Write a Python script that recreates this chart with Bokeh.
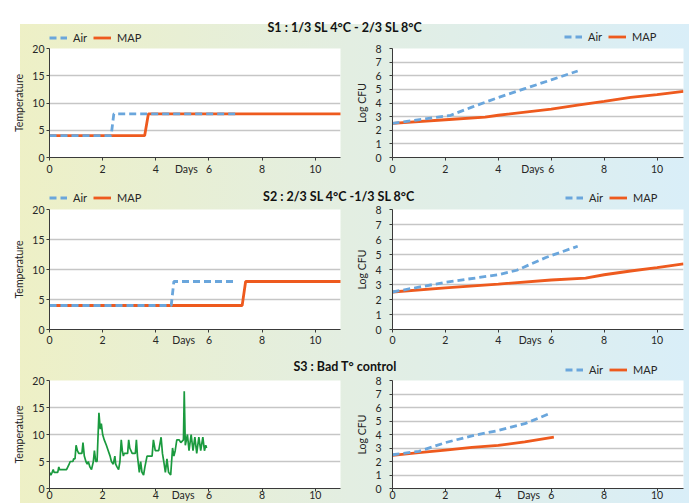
from bokeh.plotting import figure
from bokeh.models import Range1d, Label, Legend, LegendItem, FixedTicker, GridBox
from bokeh.embed import file_html
from bokeh.resources import INLINE

# ---------------- data ----------------
day_ticks = [0, 2, 4, 6, 8, 10]
temp_ticks = [0, 5, 10, 15, 20]
log_ticks = [0, 1, 2, 3, 4, 5, 6, 7, 8]
days_label = "Days"
days_label_pos = [5.15, 5.3, 5.05, 5.2, 5.03, 5.15]   # p11, p12, p21, p22, p31, p32

titles = ["S1 : 1/3 SL 4°C - 2/3 SL 8°C", "S2 : 2/3 SL 4°C -1/3 SL 8°C", "S3 : Bad T° control"]

s1_air_temp_x = [0, 2.32, 2.42, 7.0]
s1_air_temp_y = [4, 4, 8, 8]
s1_map_temp_x = [0, 3.58, 3.72, 11]
s1_map_temp_y = [4, 4, 8, 8]

s2_air_temp_x = [0, 4.58, 4.68, 7.0]
s2_air_temp_y = [4, 4, 8, 8]
s2_map_temp_x = [0, 7.25, 7.38, 11]
s2_map_temp_y = [4, 4, 8, 8]

s3_temp_day = [0.00, 0.05, 0.10, 0.14, 0.17, 0.31, 0.35, 0.38, 0.64, 0.74,
               0.78, 0.88, 0.91, 0.96, 1.00, 1.05, 1.10, 1.22, 1.26, 1.31,
               1.37, 1.42, 1.46, 1.52, 1.58, 1.65, 1.69, 1.74, 1.79, 1.86,
               1.91, 1.95, 2.00, 2.06, 2.14, 2.21, 2.28, 2.33, 2.40, 2.46,
               2.49, 2.54, 2.60, 2.65, 2.70, 2.74, 2.78, 2.81, 2.94, 2.98,
               3.02, 3.11, 3.23, 3.27, 3.31, 3.38, 3.43, 3.48, 3.54, 3.59,
               3.67, 3.86, 3.91, 3.98, 4.11, 4.20, 4.25, 4.30, 4.36, 4.42,
               4.48, 4.56, 4.63, 4.68, 4.73, 4.79, 4.88, 4.94, 5.04, 5.07,
               5.11, 5.19, 5.25, 5.33, 5.40, 5.47, 5.54, 5.62, 5.69, 5.77,
               5.83, 5.88, 5.91]
s3_temp_val = [3.0, 2.5, 3.0, 3.5, 3.0, 3.0, 4.0, 3.5, 3.5, 4.5,
               5.0, 5.0, 5.5, 5.5, 8.0, 7.0, 6.5, 6.5, 8.5, 6.0,
               5.0, 4.5, 5.0, 4.0, 3.5, 5.0, 7.0, 5.0, 5.0, 14.0,
               11.0, 12.0, 10.0, 9.0, 8.0, 7.0, 6.0, 5.0, 4.5, 6.0,
               4.5, 4.0, 3.5, 5.0, 9.0, 7.0, 6.0, 6.5, 6.5, 9.0,
               7.5, 6.5, 6.5, 9.0, 6.0, 3.0, 5.0, 3.0, 2.5, 4.0,
               6.0, 6.0, 9.0, 7.0, 7.0, 9.5, 6.5, 5.0, 3.0, 5.5,
               3.0, 2.5, 7.5, 6.0, 7.0, 9.0, 9.0, 8.5, 9.0, 18.0,
               8.0, 10.0, 7.0, 10.0, 7.0, 9.5, 6.5, 9.5, 7.0, 9.5,
               7.0, 8.0, 7.5]

s1_air_log_x = [0, 2.2, 3, 4, 5, 6, 7]
s1_air_log_y = [2.5, 3.1, 3.7, 4.4, 5.05, 5.7, 6.35]
s1_map_log_x = [0, 2, 3.5, 4, 6, 7, 8, 9, 10, 11]
s1_map_log_y = [2.5, 2.77, 2.97, 3.1, 3.55, 3.85, 4.12, 4.42, 4.62, 4.86]

s2_air_log_x = [0, 2, 4, 4.7, 5.8, 7]
s2_air_log_y = [2.5, 3.15, 3.65, 3.95, 4.8, 5.55]
s2_map_log_x = [0, 2, 4, 6, 7.3, 8, 9, 10, 11]
s2_map_log_y = [2.5, 2.78, 3.03, 3.3, 3.42, 3.65, 3.9, 4.13, 4.37]

s3_air_log_x = [0, 1, 2, 3, 4, 5, 6]
s3_air_log_y = [2.5, 2.75, 3.4, 3.9, 4.3, 4.8, 5.6]
s3_map_log_x = [0, 1, 2, 3, 4, 5, 6.1]
s3_map_log_y = [2.45, 2.65, 2.85, 3.05, 3.2, 3.45, 3.8]

# ---------------- style ----------------
FONT = "Lato"
AIR = "#6aa6dc"
MAP = "#ee5a1e"
GREEN = "#1a9a3e"
AXC = "#3a3a3a"
TXT = "#262626"

COLS = [335, 344]
W = sum(COLS)
HDR = [32, 27, 28]      # header strip heights (titles + legends)
PNL = [133, 144, 127]   # panel row heights


def panel(width, height, borders, xmax, yticks, ylabel, ystand, xstand, days_x):
    left, right, top, bottom = borders
    p = figure(width=width, height=height, x_range=Range1d(0, xmax),
               y_range=Range1d(yticks[0], yticks[-1]), toolbar_location=None,
               output_backend="svg", min_border_left=left,
               min_border_right=right, min_border_top=top, min_border_bottom=bottom,
               background_fill_color="white", border_fill_color=None,
               outline_line_color=None)
    # "Days" sits on the tick-label line; tick marks come from the minor ticks
    p.xaxis.ticker = FixedTicker(ticks=sorted(day_ticks + [days_x]), minor_ticks=day_ticks)
    p.xaxis.major_label_overrides = {days_x: days_label}
    p.yaxis.ticker = FixedTicker(ticks=yticks, minor_ticks=[])
    p.xgrid.visible = False
    p.ygrid.grid_line_color = "#c6c6c6"
    p.ygrid.grid_line_width = 1.6
    for ax in p.axis:
        ax.axis_line_color = AXC
        ax.major_tick_line_color = AXC
        ax.minor_tick_line_color = AXC
        ax.major_tick_in = 0
        ax.minor_tick_in = 0
        ax.major_label_text_font = FONT
        ax.major_label_text_font_size = "10.5px"
        ax.major_label_text_color = TXT
    p.xaxis.major_tick_out = 0
    p.xaxis.minor_tick_out = 3
    p.yaxis.major_tick_out = 3
    p.yaxis.minor_tick_out = 0
    p.xaxis.major_label_standoff = xstand
    p.yaxis.major_label_standoff = ystand
    p.yaxis.axis_label = ylabel
    p.yaxis.axis_label_text_font = FONT
    p.yaxis.axis_label_text_font_size = "10.5px"
    p.yaxis.axis_label_text_font_style = "normal"
    p.yaxis.axis_label_text_color = TXT
    p.yaxis.axis_label_standoff = 4
    return p


def header(h, title, tx, ty, legend_locs):
    # x data range = page pixels of the plot-frame span (48 .. 683)
    p = figure(width=W, height=h, x_range=Range1d(48, 683), y_range=Range1d(0, h),
               toolbar_location=None, output_backend="svg", x_axis_type=None,
               y_axis_type=None, min_border_left=38, min_border_right=6,
               min_border_top=0, min_border_bottom=0, background_fill_color=None,
               border_fill_color=None, outline_line_color=None)
    p.grid.visible = False
    p.add_layout(Label(x=tx, y=ty, text=title, text_align="center",
                       text_baseline="middle", text_font=FONT,
                       text_font_size="12.5px", text_font_style="bold",
                       text_color="#111111"))
    for loc in legend_locs:
        # legend sample renderers (kept below the visible strip)
        ra = p.line([0, 1], [-10, -10], line_color=AIR, line_width=2.8, line_dash="7 4")
        rm = p.line([0, 1], [-10, -10], line_color=MAP, line_width=2.8)
        leg = Legend(items=[LegendItem(label="Air", renderers=[ra]),
                            LegendItem(label="MAP", renderers=[rm])],
                     orientation="horizontal", location=loc, padding=0, margin=0,
                     spacing=6, label_standoff=6, glyph_width=18, glyph_height=11,
                     label_height=11, label_width=0, background_fill_alpha=0,
                     border_line_color=None, label_text_font=FONT,
                     label_text_font_size="11px", label_text_color=TXT)
        p.add_layout(leg)
    return p


def pair(p, ax, ay, mx, my):
    p.line(mx, my, line_color=MAP, line_width=2.8)
    p.line(ax, ay, line_color=AIR, line_width=2.8, line_dash="7 4")


# headers: titles + legends
h1 = header(HDR[0], titles[0], 344, 17, [(0, 0.5), (515, 1.5)])
h2 = header(HDR[1], titles[1], 338, 8, [(0, 0.5), (516, 0)])
h3 = header(HDR[2], titles[2], 344, 10, [(516, 0)])

# row 1
p11 = panel(COLS[0], PNL[0], (38, 5, 4, 20), 10.95, temp_ticks, "Temperature", 2, 2, days_label_pos[0])
pair(p11, s1_air_temp_x, s1_air_temp_y, s1_map_temp_x, s1_map_temp_y)
p12 = panel(COLS[1], PNL[0], (47, 6, 4, 20), 11.0, log_ticks, "Log CFU", 8, 2, days_label_pos[1])
pair(p12, s1_air_log_x, s1_air_log_y, s1_map_log_x, s1_map_log_y)

# row 2
p21 = panel(COLS[0], PNL[1], (38, 5, 5, 19), 10.95, temp_ticks, "Temperature", 2, 1, days_label_pos[2])
pair(p21, s2_air_temp_x, s2_air_temp_y, s2_map_temp_x, s2_map_temp_y)
p22 = panel(COLS[1], PNL[1], (47, 6, 5, 19), 11.0, log_ticks, "Log CFU", 8, 1, days_label_pos[3])
pair(p22, s2_air_log_x, s2_air_log_y, s2_map_log_x, s2_map_log_y)

# row 3
p31 = panel(COLS[0], PNL[2], (38, 5, 4, 14), 10.95, temp_ticks, "Temperature", 2, -3, days_label_pos[4])
p31.line(s3_temp_day, s3_temp_val, line_color=GREEN, line_width=1.7)
p32 = panel(COLS[1], PNL[2], (47, 6, 4, 14), 11.0, log_ticks, "Log CFU", 8, -3, days_label_pos[5])
pair(p32, s3_air_log_x, s3_air_log_y, s3_map_log_x, s3_map_log_y)

children = [(h1, 0, 0, 1, 2), (p11, 1, 0), (p12, 1, 1),
            (h2, 2, 0, 1, 2), (p21, 3, 0), (p22, 3, 1),
            (h3, 4, 0, 1, 2), (p31, 5, 0), (p32, 5, 1)]
row_sizes = [HDR[0], PNL[0], HDR[1], PNL[1], HDR[2], PNL[2]]

bg = ("linear-gradient(#ffffff, #ffffff) 0 0 / 100% 12px no-repeat, "
      "linear-gradient(#ffffff, #ffffff) 0 0 / 10px 100% no-repeat, "
      "linear-gradient(90deg, #eef0c5 0%, #e8efd4 25%, #e3eee2 50%, #dfeeea 70%, #d9eef8 100%)")

grid = GridBox(children=children,
               rows=[f"{r}px" for r in row_sizes], cols=[f"{c}px" for c in COLS],
               spacing=0, margin=(12, 0, 0, 10), styles={"background": bg})

open("out.html", "w").write(file_html(grid, INLINE))
